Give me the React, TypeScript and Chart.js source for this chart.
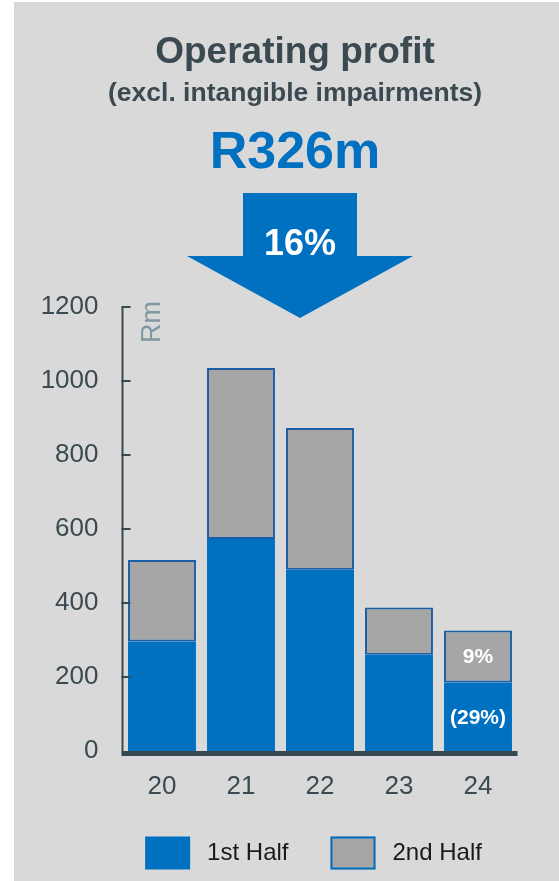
import React, { useEffect, useRef } from 'react';
import { Chart, registerables } from 'chart.js';

Chart.register(...registerables);

// ---- data ----
const years = ['20', '21', '22', '23', '24'];
const firstHalf = [296, 573, 490, 260, 185];
const secondHalf = [220, 462, 383, 128, 141];
const firstHalfNotes = ['', '', '', '', '(29%)'];
const secondHalfNotes = ['', '', '', '', '9%'];
const seriesNames = ['1st Half', '2nd Half'];
const yMin = 0;
const yMax = 1200;
const yStep = 200;
const titleText = 'Operating profit';
const subtitleText = '(excl. intangible impairments)';
const headlineText = 'R326m';
const changeText = '16%';
const unitText = 'Rm';

// ---- styles ----
const FONT = "'Liberation Sans', Arial, Helvetica, sans-serif";
const BLUE = '#0070c0';
const GREY = '#a6a6a6';
const BAR_EDGE = '#1a5ea8';
const DARK = '#3b4a51';
const AXIS = '#37474f';
const UNIT = '#7f98a2';
const BG = '#d9d9d9';
const W = 559;
const H = 881;

const headerPlugin = {
  id: 'header',
  beforeDraw(chart: any) {
    const ctx = chart.ctx;
    ctx.save();
    const cx = 295;
    ctx.textAlign = 'center';
    ctx.textBaseline = 'alphabetic';
    ctx.fillStyle = DARK;
    ctx.font = `bold 37px ${FONT}`;
    ctx.fillText(titleText, cx, 63);
    ctx.font = `bold 26.5px ${FONT}`;
    ctx.fillText(subtitleText, cx, 101);
    ctx.fillStyle = BLUE;
    ctx.font = `bold 52px ${FONT}`;
    ctx.fillText(headlineText, cx, 168);
    // down arrow
    const ax = 300;
    ctx.beginPath();
    ctx.moveTo(ax - 57, 193);
    ctx.lineTo(ax + 57, 193);
    ctx.lineTo(ax + 57, 256);
    ctx.lineTo(ax + 113, 256);
    ctx.lineTo(ax, 318);
    ctx.lineTo(ax - 113, 256);
    ctx.lineTo(ax - 57, 256);
    ctx.closePath();
    ctx.fillStyle = BLUE;
    ctx.fill();
    ctx.fillStyle = '#ffffff';
    ctx.font = `bold 36px ${FONT}`;
    ctx.fillText(changeText, ax, 255);
    ctx.restore();
  },
};

const axesPlugin = {
  id: 'axesDeco',
  afterDatasetsDraw(chart: any) {
    const ctx = chart.ctx;
    const y = chart.scales.y;
    const area = chart.chartArea;
    const zero = y.getPixelForValue(0);
    const top = y.getPixelForValue(yMax);
    ctx.save();
    // vertical axis
    ctx.strokeStyle = DARK;
    ctx.lineWidth = 2;
    ctx.beginPath();
    ctx.moveTo(area.left, top);
    ctx.lineTo(area.left, zero);
    ctx.stroke();
    // inner ticks
    y.ticks.forEach((t: any) => {
      if (t.value === 0) return;
      const py = y.getPixelForValue(t.value);
      ctx.beginPath();
      ctx.moveTo(area.left - 1, py);
      ctx.lineTo(area.left + 8, py);
      ctx.stroke();
    });
    // thick baseline
    ctx.fillStyle = AXIS;
    ctx.fillRect(area.left - 1, zero, area.right - area.left + 1, 5);
    // unit label
    ctx.translate(area.left + 30, top + 15);
    ctx.rotate(-Math.PI / 2);
    ctx.fillStyle = UNIT;
    ctx.font = `27px ${FONT}`;
    ctx.textAlign = 'center';
    ctx.textBaseline = 'middle';
    ctx.fillText(unitText, 0, 0);
    ctx.restore();
  },
};

const notesPlugin = {
  id: 'notes',
  afterDatasetsDraw(chart: any) {
    const ctx = chart.ctx;
    const notes = [firstHalfNotes, secondHalfNotes];
    ctx.save();
    ctx.fillStyle = '#ffffff';
    ctx.font = `bold 21px ${FONT}`;
    ctx.textAlign = 'center';
    ctx.textBaseline = 'middle';
    chart.data.datasets.forEach((_: any, i: number) => {
      const meta = chart.getDatasetMeta(i);
      meta.data.forEach((bar: any, j: number) => {
        const txt = notes[i][j];
        if (!txt) return;
        const p = bar.getProps(['x', 'y', 'base'], true);
        ctx.fillText(txt, p.x, (p.y + p.base) / 2 + 1);
      });
    });
    ctx.restore();
  },
};

const legendPlugin = {
  id: 'customLegend',
  afterDraw(chart: any) {
    const ctx = chart.ctx;
    ctx.save();
    ctx.font = `24px ${FONT}`;
    ctx.textBaseline = 'middle';
    ctx.textAlign = 'left';
    const boxW = 45;
    const boxH = 33;
    const gapText = 17;
    const gapItem = 42;
    const items = chart.data.datasets.map((d: any) => ({
      label: d.label,
      fill: d.backgroundColor,
      outline: d.legendOutline,
      w: ctx.measureText(d.label).width,
    }));
    const total = items.reduce((s: number, it: any) => s + boxW + gapText + it.w, 0) + gapItem * (items.length - 1);
    let x = 313.5 - total / 2;
    const cy = 853;
    items.forEach((it: any) => {
      ctx.fillStyle = it.fill;
      ctx.fillRect(x, cy - boxH / 2, boxW, boxH);
      if (it.outline) {
        ctx.strokeStyle = it.outline;
        ctx.lineWidth = 2;
        ctx.strokeRect(x + 1, cy - boxH / 2 + 1, boxW - 2, boxH - 2);
      }
      ctx.fillStyle = '#1a1a1a';
      ctx.fillText(it.label, x + boxW + gapText, cy);
      x += boxW + gapText + it.w + gapItem;
    });
    ctx.restore();
  },
};

export default function App() {
  const ref = useRef<HTMLCanvasElement | null>(null);

  useEffect(() => {
    if (!ref.current) return;
    const chart = new Chart(ref.current, {
      type: 'bar',
      data: {
        labels: years,
        datasets: [
          {
            label: seriesNames[0],
            data: firstHalf,
            backgroundColor: BLUE,
            borderWidth: 0,
            barPercentage: 0.86,
            categoryPercentage: 1,
          } as any,
          {
            label: seriesNames[1],
            data: secondHalf,
            backgroundColor: GREY,
            borderColor: BAR_EDGE,
            borderWidth: 2,
            borderSkipped: false,
            barPercentage: 0.86,
            categoryPercentage: 1,
            legendOutline: BLUE,
          } as any,
        ],
      },
      options: {
        responsive: false,
        animation: false,
        devicePixelRatio: 1,
        layout: { padding: { left: 14, right: 41.5, top: 307, bottom: 0 } },
        plugins: {
          legend: { display: false },
          tooltip: { enabled: false },
          title: { display: false },
        },
        scales: {
          x: {
            stacked: true,
            grid: { display: false },
            border: { display: false },
            ticks: {
              color: DARK,
              font: { family: FONT, size: 26 },
              padding: 12,
            },
            afterFit: (s: any) => {
              s.height = 130;
            },
          },
          y: {
            stacked: true,
            min: yMin,
            max: yMax,
            grid: { display: false },
            border: { display: false },
            ticks: {
              stepSize: yStep,
              color: DARK,
              font: { family: FONT, size: 26 },
              padding: 16,
              callback: (v: any) => String(v),
            },
            afterFit: (s: any) => {
              s.width = 108.5;
            },
          },
        },
      },
      plugins: [headerPlugin, axesPlugin, notesPlugin, legendPlugin],
    });
    return () => chart.destroy();
  }, []);

  return (
    <div style={{ position: 'absolute', left: 0, top: 0, width: W, height: H, background: '#ffffff', overflow: 'hidden' }}>
      <div style={{ position: 'absolute', left: 14, top: 2, right: 0, bottom: 0, background: BG }} />
      <canvas ref={ref} width={W} height={H} style={{ position: 'absolute', left: 0, top: 0, width: W, height: H }} />
    </div>
  );
}
